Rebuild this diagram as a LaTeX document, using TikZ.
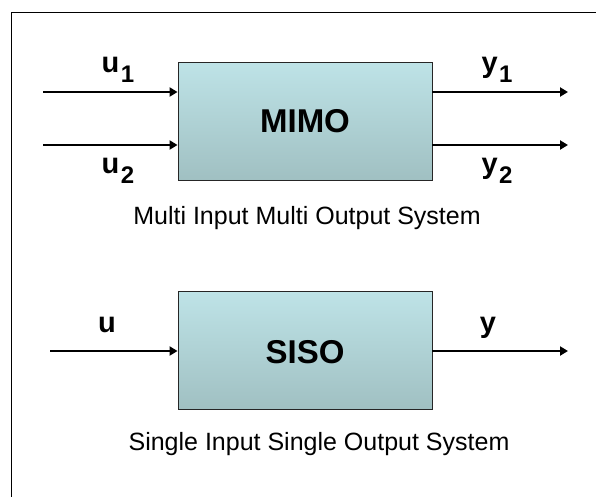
\documentclass[tikz,border=0pt]{standalone}
\usepackage{fontspec}
\setmainfont{Liberation Sans}
\usetikzlibrary{arrows.meta}
\definecolor{boxtop}{RGB}{190,227,231}
\definecolor{boxbot}{RGB}{160,192,194}
\tikzset{
  sysbox/.style={draw=black!85, line width=0.9pt, top color=boxtop, bottom color=boxbot, minimum width=254pt, minimum height=118pt, inner sep=0pt},
  sig/.style={line width=2.6pt, -{Triangle[length=8pt,width=9pt]}},
  lbl/.style={font=\fontsize{29}{29}\selectfont\bfseries, inner sep=0pt, anchor=base},
  captext/.style={font=\fontsize{25}{25}\selectfont, inner sep=0pt},
  sysname/.style={font=\fontsize{33}{33}\selectfont\bfseries}
}
\newcommand{\sbs}[1]{\kern1.5pt\raisebox{-10pt}{\fontsize{24}{24}\selectfont #1}}
\begin{document}
\begin{tikzpicture}[x=1pt,y=-1pt]
\useasboundingbox (0,0) rectangle (596,496);
\fill[white] (0,0) rectangle (596,496);
\draw[line width=1.6pt] (11.5,500) -- (11.5,12.5) -- (600,12.5);
% MIMO
\node[sysbox] (mimo) at (305,121) {};
\node[sysname] (mimotxt) at (305,121) {MIMO};
\coordinate (i1) at (43,92);
\coordinate (i2) at (43,145);
\coordinate (o1) at (568,92);
\coordinate (o2) at (568,145);
\draw[sig] (i1) -- (i1 -| mimo.west);
\draw[sig] (i2) -- (i2 -| mimo.west);
\draw[sig] (o1 -| mimo.east) -- (o1);
\draw[sig] (o2 -| mimo.east) -- (o2);
\node[lbl] (u1) at (118,72) {u\sbs{1}};
\node[lbl] (u2) at (118,173) {u\sbs{2}};
\node[lbl] (y1) at (497,72) {y\sbs{1}};
\node[lbl] (y2) at (497,173) {y\sbs{2}};
\node[captext] (mimocap) at (307,218) {Multi Input Multi Output System};
% SISO
\node[sysbox] (siso) at (305,350.5) {};
\node[sysname] (sisotxt) at (305,352) {SISO};
\coordinate (i) at (50,351);
\coordinate (o) at (568,351);
\draw[sig] (i) -- (i -| siso.west);
\draw[sig] (o -| siso.east) -- (o);
\node[lbl] (u) at (107,332) {u};
\node[lbl] (y) at (488,332) {y};
\node[captext] (sisocap) at (319,444) {Single Input Single Output System};
\end{tikzpicture}
\end{document}
